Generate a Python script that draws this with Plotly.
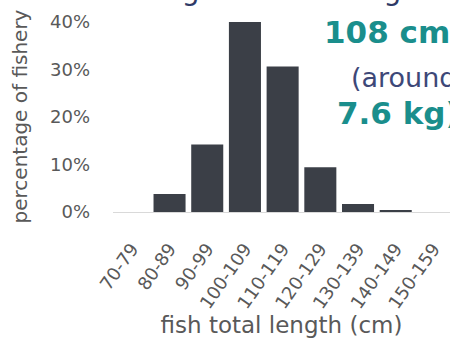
import plotly.graph_objects as go

# Share of the fishery by fish total length class
length_classes = ["70-79", "80-89", "90-99", "100-109", "110-119",
                  "120-129", "130-139", "140-149", "150-159"]
share_pct = [0.0, 3.8, 14.2, 40.0, 30.6, 9.4, 1.7, 0.3, 0.0]
y_ticks = [0, 10, 20, 30, 40]

W, H = 450, 338
ML, MR, MT, MB = 113, 0, 21, 126

AXIS_GREY = "#595959"
TEAL = "#1a8e8c"
NAVY = "#3d4878"
FONT = "DejaVu Sans"

fig = go.Figure(
    go.Bar(
        x=length_classes,
        y=share_pct,
        marker=dict(color="#3b3f47", line=dict(width=0)),
    )
)


def px_x(px):
    return (px - ML) / (W - ML - MR)


def px_y(py):
    return (H - MB - py) / (H - MB - MT)


annotations = [
    dict(text="length – an average of", x=px_x(137), y=px_y(9),
         xanchor="left", yanchor="bottom",
         font=dict(family=FONT, size=28, color="#2e3a66")),
    dict(text="<b>108 cm</b>", x=px_x(322), y=px_y(32),
         xanchor="left", yanchor="middle",
         font=dict(family=FONT, size=31, color=TEAL)),
    dict(text="(around", x=px_x(349), y=px_y(77),
         xanchor="left", yanchor="middle",
         font=dict(family=FONT, size=27, color=NAVY)),
    dict(text="<b>7.6 kg)</b>", x=px_x(335), y=px_y(113),
         xanchor="left", yanchor="middle",
         font=dict(family=FONT, size=31, color=TEAL)),
]
for a in annotations:
    a.update(xref="paper", yref="paper", showarrow=False)

fig.update_layout(
    width=W, height=H,
    margin=dict(l=ML, r=MR, t=MT, b=MB, pad=0, autoexpand=False),
    paper_bgcolor="white", plot_bgcolor="white",
    bargap=0.15,
    showlegend=False,
    annotations=annotations,
    font=dict(family=FONT, color=AXIS_GREY),
)

fig.update_xaxes(
    range=[-0.5, 8.44],
    automargin=False,
    tickangle=-55,
    tickfont=dict(family=FONT, size=18, color=AXIS_GREY),
    ticklabelstandoff=18,
    showline=True, linecolor="#d9d9d9", linewidth=1,
    showgrid=False, ticks="",
    title=dict(text="fish total length (cm)",
               font=dict(family=FONT, size=23, color=AXIS_GREY),
               standoff=15),
)

fig.update_yaxes(
    range=[0, 40.2],
    automargin=False,
    tickvals=y_ticks,
    ticktext=[f"{v}%" for v in y_ticks],
    tickfont=dict(family=FONT, size=18, color=AXIS_GREY),
    ticklabelstandoff=22,
    showgrid=False, zeroline=False, showline=False, ticks="",
    title=dict(text="percentage of fishery",
               font=dict(family=FONT, size=20, color=AXIS_GREY),
               standoff=16),
)

fig.write_html("out.html")
